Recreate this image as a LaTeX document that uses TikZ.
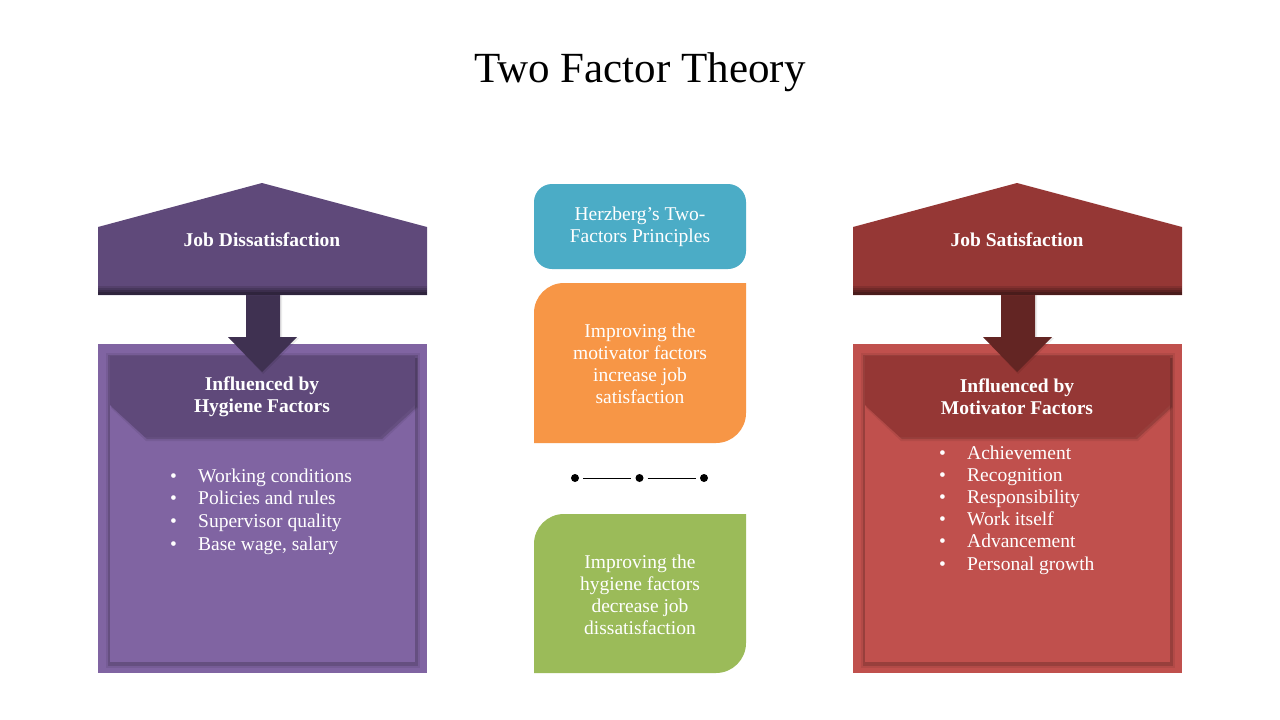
\documentclass[tikz,border=0pt]{standalone}
\usepackage{fontspec}
\setmainfont{Liberation Serif}
\definecolor{bigP}{HTML}{8064A2}
\definecolor{hdP}{HTML}{5F497A}
\definecolor{arP}{HTML}{3F3151}
\definecolor{bigR}{HTML}{C0504D}
\definecolor{hdR}{HTML}{953735}
\definecolor{arR}{HTML}{632523}
\definecolor{blueC}{HTML}{4BACC6}
\definecolor{orC}{HTML}{F79646}
\definecolor{grC}{HTML}{9BBB59}
\tikzset{
  wtxt/.style={text=white, font=\fontsize{19.5}{22.2}\selectfont, inner sep=0pt, align=center},
  btxt/.style={text=white, font=\bfseries\fontsize{19.5}{22.2}\selectfont, inner sep=0pt, align=center},
  itemtxt/.style={text=white, font=\fontsize{19.5}{22}\selectfont, inner sep=0pt, anchor=base west},
  dotnode/.style={circle, fill=black, inner sep=0pt, minimum size=8pt},
  shad/.style={fill=black, opacity=0.14},
}
\begin{document}
\begin{tikzpicture}[x=1pt,y=-1pt]
\useasboundingbox (0,0) rectangle (1280,720);
\fill[white] (0,0) rectangle (1280,720);
\node[font=\fontsize{43}{46}\selectfont, inner sep=0pt] (title) at (640,72) {Two Factor Theory};

% ---------- left side ----------
\fill[bigP] (98,344) rectangle (427,673);
\fill[black,opacity=0.07] (106,353) rectangle (420,668);
\fill[shad] (108,355) rectangle (418,666);
\fill[bigP] (110,356) rectangle (415,662);
\fill[black,opacity=0.07] (111,358) -- (418,358) -- (418,408) -- (383,441) -- (146,441) -- (111,408) -- cycle;
\fill[shad] (112,358) -- (417,358) -- (417,407) -- (382,439) -- (147,439) -- (112,407) -- cycle;
\fill[hdP] (110,356) -- (415,356) -- (415,405) -- (380,437) -- (145,437) -- (110,405) -- cycle;
\fill[black,opacity=0.08] (247,292) -- (282,292) -- (282,338) -- (299,338) -- (263,374) -- (229,338) -- (247,338) -- cycle;
\fill[arP] (246,290) -- (280,290) -- (280,337) -- (297,337) -- (262,372) -- (228,337) -- (246,337) -- cycle;
\fill[hdP] (98,295) -- (98,227) -- (262,183) -- (427,227) -- (427,295) -- cycle;
\fill[hdP!88!black] (98,286) rectangle (427,288);
\fill[hdP!75!black] (98,288) rectangle (427,290);
\fill[hdP!62!black] (98,290) rectangle (427,292);
\fill[hdP!50!black] (98,292) rectangle (427,295);
\node[btxt] (jd) at (262,240) {Job Dissatisfaction};
\node[btxt] (hf) at (262,397) {Influenced by\\Hygiene Factors};
\node[itemtxt] (lb1) at (170,482) {•};
\node[itemtxt] (lt1) at (198,482) {Working conditions};
\node[itemtxt] (lb2) at (170,504.7) {•};
\node[itemtxt] (lt2) at (198,504.7) {Policies and rules};
\node[itemtxt] (lb3) at (170,527.3) {•};
\node[itemtxt] (lt3) at (198,527.3) {Supervisor quality};
\node[itemtxt] (lb4) at (170,550) {•};
\node[itemtxt] (lt4) at (198,550) {Base wage, salary};

% ---------- right side ----------
\fill[bigR] (853,344) rectangle (1182,673);
\fill[black,opacity=0.07] (861,353) rectangle (1175,668);
\fill[shad] (863,355) rectangle (1173,666);
\fill[bigR] (865,356) rectangle (1170,662);
\fill[black,opacity=0.07] (866,358) -- (1173,358) -- (1173,408) -- (1138,441) -- (901,441) -- (866,408) -- cycle;
\fill[shad] (867,358) -- (1172,358) -- (1172,407) -- (1137,439) -- (902,439) -- (867,407) -- cycle;
\fill[hdR] (865,356) -- (1170,356) -- (1170,405) -- (1135,437) -- (900,437) -- (865,405) -- cycle;
\fill[black,opacity=0.08] (1002,292) -- (1037,292) -- (1037,338) -- (1054,338) -- (1018,374) -- (984,338) -- (1002,338) -- cycle;
\fill[arR] (1001,290) -- (1035,290) -- (1035,337) -- (1052,337) -- (1017,372) -- (983,337) -- (1001,337) -- cycle;
\fill[hdR] (853,295) -- (853,227) -- (1017,183) -- (1182,227) -- (1182,295) -- cycle;
\fill[hdR!88!black] (853,286) rectangle (1182,288);
\fill[hdR!75!black] (853,288) rectangle (1182,290);
\fill[hdR!62!black] (853,290) rectangle (1182,292);
\fill[hdR!50!black] (853,292) rectangle (1182,295);
\node[btxt] (js) at (1017,240) {Job Satisfaction};
\node[btxt] (mf) at (1017,397) {Influenced by\\Motivator Factors};
\node[itemtxt] (rb1) at (939,459) {•};
\node[itemtxt] (rt1) at (967,459) {Achievement};
\node[itemtxt] (rb2) at (939,481.2) {•};
\node[itemtxt] (rt2) at (967,481.2) {Recognition};
\node[itemtxt] (rb3) at (939,503.4) {•};
\node[itemtxt] (rt3) at (967,503.4) {Responsibility};
\node[itemtxt] (rb4) at (939,525.6) {•};
\node[itemtxt] (rt4) at (967,525.6) {Work itself};
\node[itemtxt] (rb5) at (939,547.8) {•};
\node[itemtxt] (rt5) at (967,547.8) {Advancement};
\node[itemtxt] (rb6) at (939,570) {•};
\node[itemtxt] (rt6) at (967,570) {Personal growth};

% ---------- middle ----------
\node[wtxt, fill=blueC, rounded corners=18pt, minimum width=212pt, minimum height=85pt] (hz) at (640,226.5) {Herzberg’s Two-\\Factors Principles};
\fill[orC] (534,443) -- (534,313) arc[start angle=180, end angle=270, radius=30] -- (746,283) -- (746,413) arc[start angle=0, end angle=90, radius=30] -- cycle;
\node[wtxt] (om) at (640,364) {Improving the\\motivator factors\\increase job\\satisfaction};
\fill[grC] (534,673) -- (534,544) arc[start angle=180, end angle=270, radius=30] -- (746,514) -- (746,643) arc[start angle=0, end angle=90, radius=30] -- cycle;
\node[wtxt] (gm) at (640,595) {Improving the\\hygiene factors\\decrease job\\dissatisfaction};
\node[dotnode] (d1) at (575,478) {};
\node[dotnode] (d2) at (639.5,478) {};
\node[dotnode] (d3) at (704,478) {};
\draw[line width=1pt, shorten <=4pt, shorten >=4pt] (d1) -- (d2);
\draw[line width=1pt, shorten <=4pt, shorten >=4pt] (d2) -- (d3);
\end{tikzpicture}
\end{document}
